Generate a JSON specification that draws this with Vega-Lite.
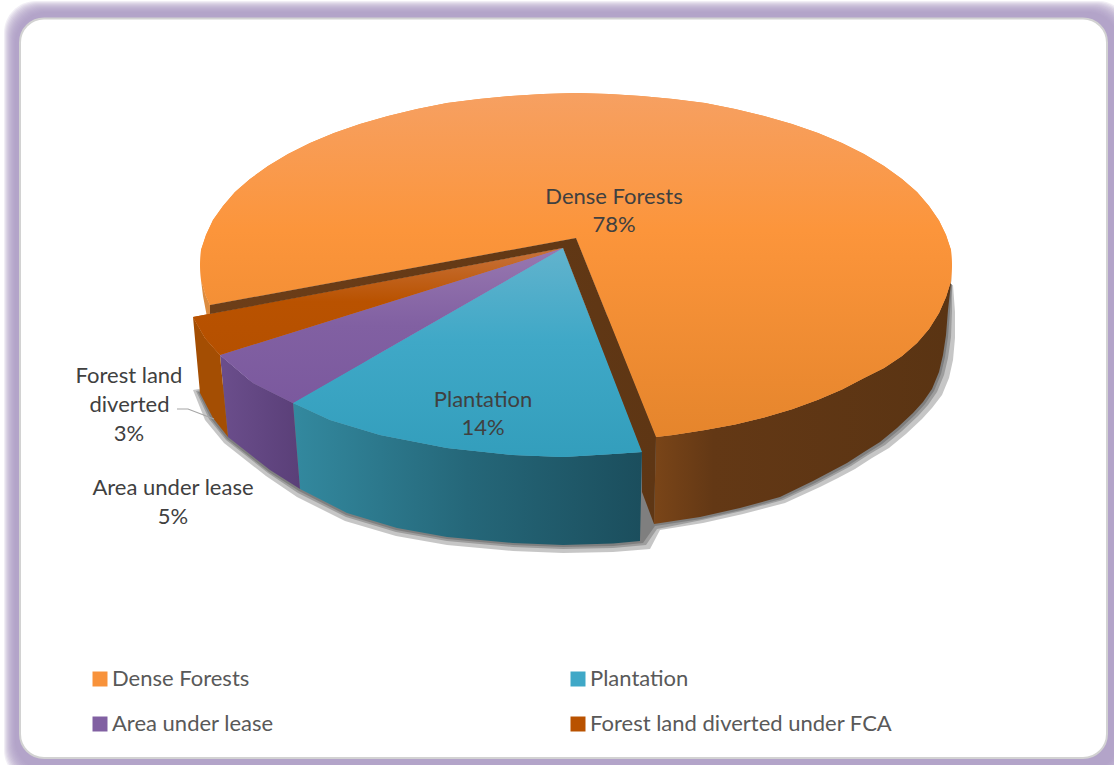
{"$schema":"https://vega.github.io/schema/vega-lite/v6.json","width":1114,"height":765,"padding":0,"autosize":{"type":"none"},"background":"white","config":{"view":{"stroke":null},"font":"Lato"},
"datasets":{
"frame":[{"x":4,"x2":1130,"y":1,"y2":782},{"x":5,"x2":1129,"y":2,"y2":781},{"x":6,"x2":1128,"y":3,"y2":780},{"x":7,"x2":1127,"y":4,"y2":779},{"x":8,"x2":1126,"y":5,"y2":778},{"x":9,"x2":1125,"y":6,"y2":777},{"x":10,"x2":1124,"y":7,"y2":776},{"x":11,"x2":1123,"y":8,"y2":775},{"x":12,"x2":1122,"y":9,"y2":774},{"x":13,"x2":1121,"y":10,"y2":773},{"x":14,"x2":1120,"y":11,"y2":772},{"x":15,"x2":1119,"y":12,"y2":771}],
"panel":[{"x":20,"x2":1107,"y":18.5,"y2":758}],
"labels":[{"t":"Dense Forests","x":614,"y":197},{"t":"78%","x":614,"y":225},{"t":"Plantation","x":483,"y":400},{"t":"14%","x":483,"y":428},{"t":"Forest land","x":129,"y":376},{"t":"diverted","x":129.5,"y":405},{"t":"3%","x":129,"y":434},{"t":"Area under lease","x":173,"y":488},{"t":"5%","x":173,"y":517}],
"leader":[{"i":0,"x":177,"y":409},{"i":1,"x":188,"y":409},{"i":2,"x":214,"y":419}],
"shadow":[
{"l":"A","i":0,"x":193,"y":390},{"l":"A","i":1,"x":205,"y":420},{"l":"A","i":2,"x":224,"y":443},{"l":"A","i":3,"x":266,"y":476},{"l":"A","i":4,"x":297,"y":497},{"l":"A","i":5,"x":345,"y":521},{"l":"A","i":6,"x":396,"y":536},{"l":"A","i":7,"x":447,"y":545},{"l":"A","i":8,"x":513,"y":551},{"l":"A","i":9,"x":563,"y":553},{"l":"A","i":10,"x":613,"y":552},{"l":"A","i":11,"x":650,"y":549},{"l":"A","i":12,"x":660,"y":530},{"l":"A","i":13,"x":703,"y":523},{"l":"A","i":14,"x":743,"y":514},{"l":"A","i":15,"x":785,"y":503},{"l":"A","i":16,"x":820,"y":487},{"l":"A","i":17,"x":838,"y":478},{"l":"A","i":18,"x":855,"y":469},{"l":"A","i":19,"x":872,"y":458},{"l":"A","i":20,"x":889,"y":448},{"l":"A","i":21,"x":906,"y":434},{"l":"A","i":22,"x":922,"y":419},{"l":"A","i":23,"x":932,"y":408},{"l":"A","i":24,"x":942,"y":395},{"l":"A","i":25,"x":949,"y":378},{"l":"A","i":26,"x":953,"y":360},{"l":"A","i":27,"x":955,"y":338},{"l":"A","i":28,"x":955,"y":312},{"l":"A","i":29,"x":953,"y":285},{"l":"A","i":30,"x":700,"y":300},
{"l":"B","i":0,"x":196,"y":391},{"l":"B","i":1,"x":209,"y":419},{"l":"B","i":2,"x":226,"y":440},{"l":"B","i":3,"x":268,"y":473},{"l":"B","i":4,"x":298,"y":493},{"l":"B","i":5,"x":346,"y":517},{"l":"B","i":6,"x":396,"y":532},{"l":"B","i":7,"x":447,"y":541},{"l":"B","i":8,"x":513,"y":547},{"l":"B","i":9,"x":563,"y":549},{"l":"B","i":10,"x":613,"y":548},{"l":"B","i":11,"x":646,"y":545},{"l":"B","i":12,"x":657,"y":529},{"l":"B","i":13,"x":702,"y":520},{"l":"B","i":14,"x":742,"y":511},{"l":"B","i":15,"x":783,"y":500},{"l":"B","i":16,"x":817,"y":484},{"l":"B","i":17,"x":834,"y":475},{"l":"B","i":18,"x":851,"y":466},{"l":"B","i":19,"x":868,"y":455},{"l":"B","i":20,"x":885,"y":445},{"l":"B","i":21,"x":902,"y":431},{"l":"B","i":22,"x":918,"y":416},{"l":"B","i":23,"x":928,"y":405},{"l":"B","i":24,"x":937,"y":392},{"l":"B","i":25,"x":944,"y":375},{"l":"B","i":26,"x":948,"y":358},{"l":"B","i":27,"x":951,"y":337},{"l":"B","i":28,"x":952,"y":311},{"l":"B","i":29,"x":952,"y":284},{"l":"B","i":30,"x":700,"y":300},
{"l":"C","i":0,"x":198,"y":392},{"l":"C","i":1,"x":211,"y":419},{"l":"C","i":2,"x":227,"y":439},{"l":"C","i":3,"x":269,"y":472},{"l":"C","i":4,"x":299,"y":491},{"l":"C","i":5,"x":346,"y":515},{"l":"C","i":6,"x":396,"y":530},{"l":"C","i":7,"x":447,"y":539},{"l":"C","i":8,"x":513,"y":545},{"l":"C","i":9,"x":563,"y":547},{"l":"C","i":10,"x":613,"y":546},{"l":"C","i":11,"x":643,"y":543},{"l":"C","i":12,"x":655,"y":526},{"l":"C","i":13,"x":701,"y":519},{"l":"C","i":14,"x":741,"y":510},{"l":"C","i":15,"x":781,"y":499},{"l":"C","i":16,"x":815,"y":483},{"l":"C","i":17,"x":832,"y":474},{"l":"C","i":18,"x":849,"y":465},{"l":"C","i":19,"x":866,"y":454},{"l":"C","i":20,"x":882,"y":444},{"l":"C","i":21,"x":899,"y":430},{"l":"C","i":22,"x":915,"y":415},{"l":"C","i":23,"x":925,"y":404},{"l":"C","i":24,"x":934,"y":391},{"l":"C","i":25,"x":941,"y":374},{"l":"C","i":26,"x":945,"y":357},{"l":"C","i":27,"x":948,"y":337},{"l":"C","i":28,"x":950,"y":311},{"l":"C","i":29,"x":952,"y":284},{"l":"C","i":30,"x":700,"y":300}
],
"sides":[
{"s":"dense","i":0,"x":656,"y":437},{"s":"dense","i":1,"x":673,"y":435},{"s":"dense","i":2,"x":705,"y":430},{"s":"dense","i":3,"x":735,"y":424.5},{"s":"dense","i":4,"x":764,"y":417.4},{"s":"dense","i":5,"x":792,"y":409.2},{"s":"dense","i":6,"x":818,"y":399.8},{"s":"dense","i":7,"x":842,"y":389.4},{"s":"dense","i":8,"x":864,"y":378.1},{"s":"dense","i":9,"x":884,"y":368},{"s":"dense","i":10,"x":902,"y":356},{"s":"dense","i":11,"x":917,"y":343},{"s":"dense","i":12,"x":929,"y":329},{"s":"dense","i":13,"x":939,"y":313},{"s":"dense","i":14,"x":946,"y":297},{"s":"dense","i":15,"x":951,"y":281},{"s":"dense","i":16,"x":952,"y":270},{"s":"dense","i":17,"x":951,"y":283},{"s":"dense","i":18,"x":948,"y":310},{"s":"dense","i":19,"x":946,"y":335},{"s":"dense","i":20,"x":943,"y":355},{"s":"dense","i":21,"x":939,"y":372},{"s":"dense","i":22,"x":932,"y":389},{"s":"dense","i":23,"x":923,"y":402},{"s":"dense","i":24,"x":913,"y":413},{"s":"dense","i":25,"x":897,"y":428},{"s":"dense","i":26,"x":880,"y":442},{"s":"dense","i":27,"x":864,"y":452},{"s":"dense","i":28,"x":847,"y":463},{"s":"dense","i":29,"x":830,"y":472},{"s":"dense","i":30,"x":813,"y":481},{"s":"dense","i":31,"x":780,"y":497},{"s":"dense","i":32,"x":740,"y":508},{"s":"dense","i":33,"x":700,"y":517},{"s":"dense","i":34,"x":654,"y":524},
{"s":"plantation","i":0,"x":293,"y":403},{"s":"plantation","i":1,"x":330,"y":420},{"s":"plantation","i":2,"x":380,"y":435},{"s":"plantation","i":3,"x":447,"y":448},{"s":"plantation","i":4,"x":513,"y":455},{"s":"plantation","i":5,"x":563,"y":457},{"s":"plantation","i":6,"x":613,"y":454},{"s":"plantation","i":7,"x":642,"y":452},{"s":"plantation","i":8,"x":640,"y":541},{"s":"plantation","i":9,"x":613,"y":543.5},{"s":"plantation","i":10,"x":563,"y":545},{"s":"plantation","i":11,"x":513,"y":543},{"s":"plantation","i":12,"x":447,"y":537},{"s":"plantation","i":13,"x":397,"y":528},{"s":"plantation","i":14,"x":347,"y":513},{"s":"plantation","i":15,"x":300,"y":489},
{"s":"lease","i":0,"x":220,"y":355},{"s":"lease","i":1,"x":253,"y":383},{"s":"lease","i":2,"x":293,"y":403},{"s":"lease","i":3,"x":300,"y":489},{"s":"lease","i":4,"x":270,"y":470},{"s":"lease","i":5,"x":228,"y":437},
{"s":"diverted","i":0,"x":193,"y":317},{"s":"diverted","i":1,"x":205,"y":338},{"s":"diverted","i":2,"x":220,"y":355},{"s":"diverted","i":3,"x":228,"y":437},{"s":"diverted","i":4,"x":213,"y":418},{"s":"diverted","i":5,"x":200,"y":393},
{"s":"denseleft","i":0,"x":201,"y":280},{"s":"denseleft","i":1,"x":206,"y":296},{"s":"denseleft","i":2,"x":210,"y":305},{"s":"denseleft","i":3,"x":210,"y":314},{"s":"denseleft","i":4,"x":207,"y":317},{"s":"denseleft","i":5,"x":203,"y":296}
],
"inner":[{"i":0,"x":576,"y":238},{"i":1,"x":656,"y":437},{"i":2,"x":654,"y":524},{"i":3,"x":642,"y":492},{"i":4,"x":642,"y":452},{"i":5,"x":563,"y":248},{"i":6,"x":210,"y":314},{"i":7,"x":210,"y":305}],
"tops":[
{"slice":"Dense Forests","i":0,"x":576,"y":238},{"slice":"Dense Forests","i":1,"x":656,"y":437},{"slice":"Dense Forests","i":2,"x":673,"y":435},{"slice":"Dense Forests","i":3,"x":705,"y":430},{"slice":"Dense Forests","i":4,"x":735,"y":424.5},{"slice":"Dense Forests","i":5,"x":764,"y":417.4},{"slice":"Dense Forests","i":6,"x":792,"y":409.2},{"slice":"Dense Forests","i":7,"x":818,"y":399.8},{"slice":"Dense Forests","i":8,"x":842,"y":389.4},{"slice":"Dense Forests","i":9,"x":864,"y":378.1},{"slice":"Dense Forests","i":10,"x":884,"y":368},{"slice":"Dense Forests","i":11,"x":902,"y":356},{"slice":"Dense Forests","i":12,"x":917,"y":343},{"slice":"Dense Forests","i":13,"x":929,"y":329},{"slice":"Dense Forests","i":14,"x":939,"y":313},{"slice":"Dense Forests","i":15,"x":946,"y":297},{"slice":"Dense Forests","i":16,"x":951,"y":281},{"slice":"Dense Forests","i":17,"x":952,"y":265},{"slice":"Dense Forests","i":18,"x":951,"y":250},{"slice":"Dense Forests","i":19,"x":946,"y":235},{"slice":"Dense Forests","i":20,"x":939,"y":220.5},{"slice":"Dense Forests","i":21,"x":929,"y":206},{"slice":"Dense Forests","i":22,"x":917,"y":192},{"slice":"Dense Forests","i":23,"x":902,"y":179},{"slice":"Dense Forests","i":24,"x":884,"y":166},{"slice":"Dense Forests","i":25,"x":864,"y":154},{"slice":"Dense Forests","i":26,"x":842,"y":143},{"slice":"Dense Forests","i":27,"x":818,"y":133},{"slice":"Dense Forests","i":28,"x":792,"y":124},{"slice":"Dense Forests","i":29,"x":764,"y":116},{"slice":"Dense Forests","i":30,"x":735,"y":109},{"slice":"Dense Forests","i":31,"x":705,"y":103},{"slice":"Dense Forests","i":32,"x":673,"y":99},{"slice":"Dense Forests","i":33,"x":641,"y":96},{"slice":"Dense Forests","i":34,"x":609,"y":94},{"slice":"Dense Forests","i":35,"x":576,"y":93},{"slice":"Dense Forests","i":36,"x":543,"y":94},{"slice":"Dense Forests","i":37,"x":511,"y":96},{"slice":"Dense Forests","i":38,"x":479,"y":99},{"slice":"Dense Forests","i":39,"x":447,"y":103},{"slice":"Dense Forests","i":40,"x":417,"y":109},{"slice":"Dense Forests","i":41,"x":388,"y":116},{"slice":"Dense Forests","i":42,"x":360,"y":124},{"slice":"Dense Forests","i":43,"x":334,"y":133},{"slice":"Dense Forests","i":44,"x":310,"y":143},{"slice":"Dense Forests","i":45,"x":288,"y":154},{"slice":"Dense Forests","i":46,"x":268,"y":166},{"slice":"Dense Forests","i":47,"x":250,"y":179},{"slice":"Dense Forests","i":48,"x":235,"y":192},{"slice":"Dense Forests","i":49,"x":223,"y":206},{"slice":"Dense Forests","i":50,"x":213,"y":220},{"slice":"Dense Forests","i":51,"x":206,"y":235},{"slice":"Dense Forests","i":52,"x":201,"y":250},{"slice":"Dense Forests","i":53,"x":200,"y":265},{"slice":"Dense Forests","i":54,"x":201,"y":280},{"slice":"Dense Forests","i":55,"x":206,"y":296},{"slice":"Dense Forests","i":56,"x":210,"y":305},
{"slice":"Plantation","i":0,"x":563,"y":248},{"slice":"Plantation","i":1,"x":642,"y":452},{"slice":"Plantation","i":2,"x":613,"y":454},{"slice":"Plantation","i":3,"x":563,"y":457},{"slice":"Plantation","i":4,"x":513,"y":455},{"slice":"Plantation","i":5,"x":447,"y":448},{"slice":"Plantation","i":6,"x":380,"y":435},{"slice":"Plantation","i":7,"x":330,"y":420},{"slice":"Plantation","i":8,"x":293,"y":403},
{"slice":"Area under lease","i":0,"x":563,"y":248},{"slice":"Area under lease","i":1,"x":293,"y":403},{"slice":"Area under lease","i":2,"x":253,"y":383},{"slice":"Area under lease","i":3,"x":220,"y":355},
{"slice":"Forest land diverted under FCA","i":0,"x":563,"y":248},{"slice":"Forest land diverted under FCA","i":1,"x":220,"y":355},{"slice":"Forest land diverted under FCA","i":2,"x":205,"y":338},{"slice":"Forest land diverted under FCA","i":3,"x":193,"y":317}
]},
"encoding":{"x":{"field":"x","type":"quantitative","scale":{"domain":[0,1114],"nice":false,"zero":false},"axis":null},"y":{"field":"y","type":"quantitative","scale":{"domain":[0,765],"reverse":true,"nice":false,"zero":false},"axis":null}},
"layer":[
{"data":{"name":"frame"},"mark":{"type":"rect","fill":"#ad98c6","opacity":0.17,"cornerRadius":32},"encoding":{"x2":{"field":"x2"},"y2":{"field":"y2"}}},
{"data":{"name":"panel"},"mark":{"type":"rect","fill":"white","stroke":"#d2d2d2","strokeWidth":2,"cornerRadius":24},"encoding":{"x2":{"field":"x2"},"y2":{"field":"y2"}}},
{"data":{"name":"shadow"},"mark":{"type":"line","filled":true,"fill":"#333333","opacity":0.28},"encoding":{"order":{"field":"i"},"detail":{"field":"l"}}},
{"data":{"name":"sides"},"transform":[{"filter":"datum.s==='denseleft'"}],"mark":{"type":"line","filled":true,"fill":"#dc8c40"},"encoding":{"order":{"field":"i"}}},
{"data":{"name":"sides"},"transform":[{"filter":"datum.s==='dense'"}],"mark":{"type":"line","filled":true,"fill":{"gradient":"linear","x1":0,"y1":0,"x2":1,"y2":0,"stops":[{"offset":0,"color":"#7a4518"},{"offset":0.2,"color":"#633815"},{"offset":1,"color":"#5a3413"}]}},"encoding":{"order":{"field":"i"}}},
{"data":{"name":"sides"},"transform":[{"filter":"datum.s==='plantation'"}],"mark":{"type":"line","filled":true,"fill":{"gradient":"linear","x1":0,"y1":0,"x2":1,"y2":0,"stops":[{"offset":0,"color":"#33899f"},{"offset":0.5,"color":"#256779"},{"offset":1,"color":"#1b4e5d"}]}},"encoding":{"order":{"field":"i"}}},
{"data":{"name":"sides"},"transform":[{"filter":"datum.s==='lease'"}],"mark":{"type":"line","filled":true,"fill":{"gradient":"linear","x1":0,"y1":0,"x2":1,"y2":0,"stops":[{"offset":0,"color":"#6b4e8c"},{"offset":1,"color":"#5a3f78"}]}},"encoding":{"order":{"field":"i"}}},
{"data":{"name":"sides"},"transform":[{"filter":"datum.s==='diverted'"}],"mark":{"type":"line","filled":true,"fill":"#a44e03"},"encoding":{"order":{"field":"i"}}},
{"data":{"name":"tops"},"mark":{"type":"line","filled":true},"encoding":{"order":{"field":"i"},"color":{"field":"slice","type":"nominal","scale":{"domain":["Dense Forests","Area under lease","Plantation","Forest land diverted under FCA"],"range":["#f8923a","#8160a2","#3fa8c7","#b95200"]},"legend":{"title":null,"orient":"none","legendX":89,"legendY":668,"columns":2,"columnPadding":293,"rowPadding":23,"symbolType":"square","symbolSize":225,"symbolStrokeWidth":0,"labelFont":"Lato","labelFontSize":22,"labelColor":"#595959","labelOffset":1,"labelLimit":400}}}},
{"data":{"name":"tops"},"transform":[{"filter":"datum.slice==='Dense Forests'"}],"mark":{"type":"line","filled":true,"fill":{"gradient":"linear","x1":0,"y1":0,"x2":0,"y2":1,"stops":[{"offset":0,"color":"#f6a062"},{"offset":0.4,"color":"#fc953b"},{"offset":1,"color":"#e5852c"}]}},"encoding":{"order":{"field":"i"}}},
{"data":{"name":"tops"},"transform":[{"filter":"datum.slice==='Plantation'"}],"mark":{"type":"line","filled":true,"fill":{"gradient":"linear","x1":0,"y1":0,"x2":0,"y2":1,"stops":[{"offset":0,"color":"#62b3cd"},{"offset":0.45,"color":"#3fa8c7"},{"offset":1,"color":"#339ebc"}]}},"encoding":{"order":{"field":"i"}}},
{"data":{"name":"tops"},"transform":[{"filter":"datum.slice==='Area under lease'"}],"mark":{"type":"line","filled":true,"fill":{"gradient":"linear","x1":0,"y1":0,"x2":0,"y2":1,"stops":[{"offset":0,"color":"#9878b0"},{"offset":0.5,"color":"#8160a2"},{"offset":1,"color":"#7b599e"}]}},"encoding":{"order":{"field":"i"}}},
{"data":{"name":"tops"},"transform":[{"filter":"datum.slice==='Forest land diverted under FCA'"}],"mark":{"type":"line","filled":true,"fill":{"gradient":"linear","x1":0,"y1":0,"x2":0,"y2":1,"stops":[{"offset":0,"color":"#c8733c"},{"offset":0.5,"color":"#b95200"},{"offset":1,"color":"#b55000"}]}},"encoding":{"order":{"field":"i"}}},
{"data":{"name":"inner"},"mark":{"type":"line","filled":true,"fill":{"gradient":"linear","x1":0,"y1":0,"x2":1,"y2":0,"stops":[{"offset":0,"color":"#6d3e18"},{"offset":1,"color":"#5e3614"}]}},"encoding":{"order":{"field":"i"}}},
{"data":{"name":"leader"},"mark":{"type":"line","stroke":"#a6a6a6","strokeWidth":1.2},"encoding":{"order":{"field":"i"}}},
{"data":{"name":"labels"},"mark":{"type":"text","font":"Lato","fontSize":22,"color":"#404040","align":"center","baseline":"middle"},"encoding":{"text":{"field":"t"}}}
]}
